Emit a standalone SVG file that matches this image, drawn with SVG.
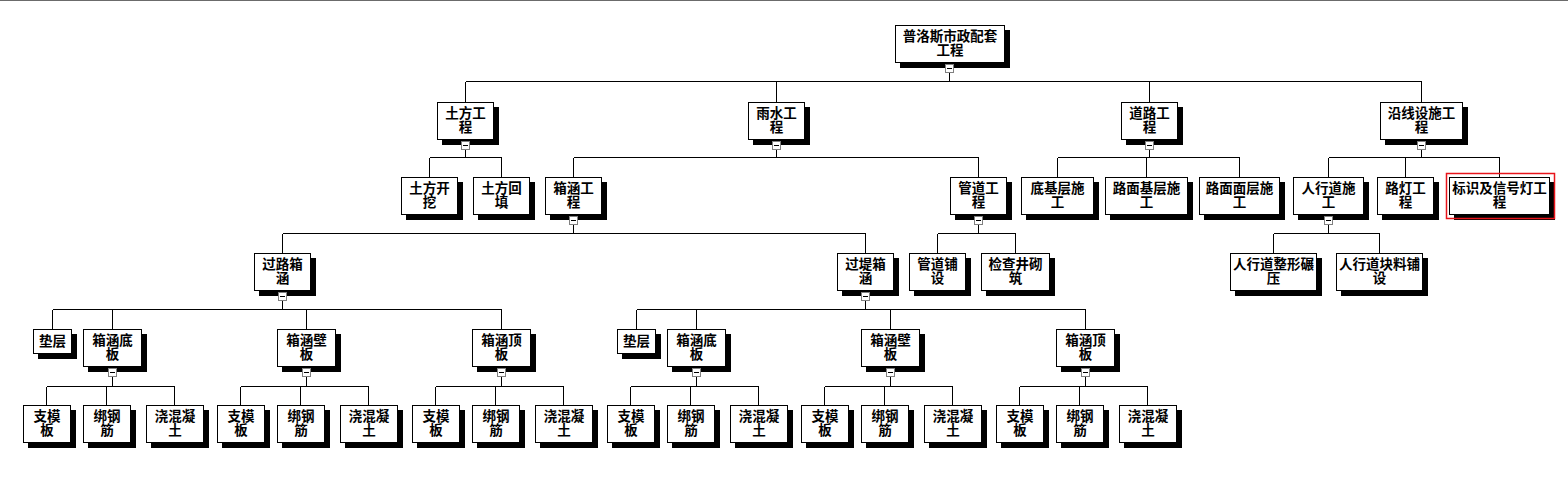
<svg xmlns="http://www.w3.org/2000/svg" width="1568" height="495" viewBox="0 0 1568 495">
<style>
.sh{fill:#000}
.bx{fill:#fff;stroke:#000;stroke-width:1;shape-rendering:crispEdges}
.t{font-family:"Noto Sans CJK SC","Noto Sans",sans-serif;font-weight:bold;font-size:13.5px;text-anchor:middle;fill:#000}
.tg rect{fill:#fff;stroke:#808080;stroke-width:1;shape-rendering:crispEdges}
.tg path{stroke:#000;stroke-width:1;fill:none;shape-rendering:crispEdges}
#connectors path{stroke:#000;stroke-width:1;fill:none;shape-rendering:crispEdges}
</style>
<rect x="0" y="0" width="1568" height="1" fill="#6b6b6b"/>
<rect width="1568" height="494" y="1" fill="#fff"/>
<g id="connectors">
<path d="M949.5 72V81.5M465.5 81.5H1421.5M465.5 81.5V102M776.5 81.5V102M1149.5 81.5V102M1421.5 81.5V102"/>
<path d="M465.5 149V157.5M429.5 157.5H501.5M429.5 157.5V177M501.5 157.5V177"/>
<path d="M776.5 149V157.5M573.5 157.5H978.5M573.5 157.5V177M978.5 157.5V177"/>
<path d="M1149.5 149V157.5M1057.5 157.5H1239.5M1057.5 157.5V177M1146.5 157.5V177M1239.5 157.5V177"/>
<path d="M1421.5 149V157.5M1328.5 157.5H1499.5M1328.5 157.5V177M1405.5 157.5V177M1499.5 157.5V177"/>
<path d="M573.5 224V233.5M282.5 233.5H865.5M282.5 233.5V253M865.5 233.5V253"/>
<path d="M978.5 224V233.5M937.5 233.5H1015.5M937.5 233.5V253M1015.5 233.5V253"/>
<path d="M1328.5 224V233.5M1273.5 233.5H1379.5M1273.5 233.5V253M1379.5 233.5V253"/>
<path d="M282.5 300V309.5M52.5 309.5H501.5M52.5 309.5V329M112.5 309.5V329M306.5 309.5V329M501.5 309.5V329"/>
<path d="M865.5 300V309.5M636.5 309.5H1085.5M636.5 309.5V329M696.5 309.5V329M890.5 309.5V329M1085.5 309.5V329"/>
<path d="M112.5 376V386.5M46.5 386.5H174.5M46.5 386.5V405M106.5 386.5V405M174.5 386.5V405"/>
<path d="M306.5 376V386.5M240.5 386.5H368.5M240.5 386.5V405M300.5 386.5V405M368.5 386.5V405"/>
<path d="M501.5 376V386.5M435.5 386.5H563.5M435.5 386.5V405M495.5 386.5V405M563.5 386.5V405"/>
<path d="M696.5 376V386.5M630.5 386.5H758.5M630.5 386.5V405M690.5 386.5V405M758.5 386.5V405"/>
<path d="M890.5 376V386.5M824.5 386.5H952.5M824.5 386.5V405M884.5 386.5V405M952.5 386.5V405"/>
<path d="M1085.5 376V386.5M1019.5 386.5H1147.5M1019.5 386.5V405M1079.5 386.5V405M1147.5 386.5V405"/>
</g>

<g id="root"><rect class="sh" x="900" y="30" width="110" height="38"/><rect class="bx" x="895.5" y="25.5" width="109" height="37"/><text class="t" x="950" y="41">普洛斯市政配套<tspan x="950" dy="14">工程</tspan></text><g class="tg"><rect x="945.5" y="64.5" width="8" height="8"/><path d="M947 68.5h5"/></g></g>

<g id="n-tufang"><rect class="sh" x="442" y="107" width="57" height="38"/><rect class="bx" x="437.5" y="102.5" width="56" height="37"/><text class="t" x="465.5" y="118">土方工<tspan x="465.5" dy="14">程</tspan></text><g class="tg"><rect x="461.5" y="141.5" width="8" height="8"/><path d="M463 145.5h5"/></g></g>
<g id="n-yushui"><rect class="sh" x="753" y="107" width="57" height="38"/><rect class="bx" x="748.5" y="102.5" width="56" height="37"/><text class="t" x="776.5" y="118">雨水工<tspan x="776.5" dy="14">程</tspan></text><g class="tg"><rect x="772.5" y="141.5" width="8" height="8"/><path d="M774 145.5h5"/></g></g>
<g id="n-daolu"><rect class="sh" x="1126" y="107" width="57" height="38"/><rect class="bx" x="1121.5" y="102.5" width="56" height="37"/><text class="t" x="1149.5" y="118">道路工<tspan x="1149.5" dy="14">程</tspan></text><g class="tg"><rect x="1145.5" y="141.5" width="8" height="8"/><path d="M1147 145.5h5"/></g></g>
<g id="n-yanxian"><rect class="sh" x="1385" y="107" width="83" height="38"/><rect class="bx" x="1380.5" y="102.5" width="82" height="37"/><text class="t" x="1421.5" y="118">沿线设施工<tspan x="1421.5" dy="14">程</tspan></text><g class="tg"><rect x="1417.5" y="141.5" width="8" height="8"/><path d="M1419 145.5h5"/></g></g>

<g id="n-tfkw"><rect class="sh" x="406" y="182" width="57" height="38"/><rect class="bx" x="401.5" y="177.5" width="56" height="37"/><text class="t" x="429.5" y="193">土方开<tspan x="429.5" dy="14">挖</tspan></text></g>
<g id="n-tfht"><rect class="sh" x="478" y="182" width="57" height="38"/><rect class="bx" x="473.5" y="177.5" width="56" height="37"/><text class="t" x="501.5" y="193">土方回<tspan x="501.5" dy="14">填</tspan></text></g>
<g id="n-xhgc"><rect class="sh" x="550" y="182" width="57" height="38"/><rect class="bx" x="545.5" y="177.5" width="56" height="37"/><text class="t" x="573.5" y="193">箱涵工<tspan x="573.5" dy="14">程</tspan></text><g class="tg"><rect x="569.5" y="216.5" width="8" height="8"/><path d="M571 220.5h5"/></g></g>
<g id="n-gdgc"><rect class="sh" x="955" y="182" width="57" height="38"/><rect class="bx" x="950.5" y="177.5" width="56" height="37"/><text class="t" x="978.5" y="193">管道工<tspan x="978.5" dy="14">程</tspan></text><g class="tg"><rect x="974.5" y="216.5" width="8" height="8"/><path d="M976 220.5h5"/></g></g>
<g id="n-djcsg"><rect class="sh" x="1026" y="182" width="73" height="38"/><rect class="bx" x="1021.5" y="177.5" width="72" height="37"/><text class="t" x="1057.5" y="193">底基层施<tspan x="1057.5" dy="14">工</tspan></text></g>
<g id="n-lmjcsg"><rect class="sh" x="1110" y="182" width="83" height="38"/><rect class="bx" x="1105.5" y="177.5" width="82" height="37"/><text class="t" x="1146.5" y="193">路面基层施<tspan x="1146.5" dy="14">工</tspan></text></g>
<g id="n-lmmcsg"><rect class="sh" x="1204" y="182" width="81" height="38"/><rect class="bx" x="1199.5" y="177.5" width="80" height="37"/><text class="t" x="1239.5" y="193">路面面层施<tspan x="1239.5" dy="14">工</tspan></text></g>
<g id="n-rxdsg"><rect class="sh" x="1298" y="182" width="71" height="38"/><rect class="bx" x="1293.5" y="177.5" width="70" height="37"/><text class="t" x="1328.5" y="193">人行道施<tspan x="1328.5" dy="14">工</tspan></text><g class="tg"><rect x="1324.5" y="216.5" width="8" height="8"/><path d="M1326 220.5h5"/></g></g>
<g id="n-ldgc"><rect class="sh" x="1382" y="182" width="57" height="38"/><rect class="bx" x="1377.5" y="177.5" width="56" height="37"/><text class="t" x="1405.5" y="193">路灯工<tspan x="1405.5" dy="14">程</tspan></text></g>
<g id="n-bsxhd"><rect class="sh" x="1454" y="182" width="101" height="38"/><rect class="bx" x="1449.5" y="177.5" width="100" height="37"/><text class="t" x="1499.5" y="193">标识及信号灯工<tspan x="1499.5" dy="14">程</tspan></text><rect x="1446.5" y="173.5" width="108" height="45" fill="none" stroke="#e8141b" stroke-width="1.5"/></g>

<g id="n-glxh"><rect class="sh" x="259" y="258" width="57" height="38"/><rect class="bx" x="254.5" y="253.5" width="56" height="37"/><text class="t" x="282.5" y="269">过路箱<tspan x="282.5" dy="14">涵</tspan></text><g class="tg"><rect x="278.5" y="292.5" width="8" height="8"/><path d="M280 296.5h5"/></g></g>
<g id="n-gdxh"><rect class="sh" x="842" y="258" width="57" height="38"/><rect class="bx" x="837.5" y="253.5" width="56" height="37"/><text class="t" x="865.5" y="269">过堤箱<tspan x="865.5" dy="14">涵</tspan></text><g class="tg"><rect x="861.5" y="292.5" width="8" height="8"/><path d="M863 296.5h5"/></g></g>
<g id="n-gdps"><rect class="sh" x="914" y="258" width="57" height="38"/><rect class="bx" x="909.5" y="253.5" width="56" height="37"/><text class="t" x="937.5" y="269">管道铺<tspan x="937.5" dy="14">设</tspan></text></g>
<g id="n-jcjqz"><rect class="sh" x="986" y="258" width="69" height="38"/><rect class="bx" x="981.5" y="253.5" width="68" height="37"/><text class="t" x="1015.5" y="269">检查井砌<tspan x="1015.5" dy="14">筑</tspan></text></g>
<g id="n-rxdzx"><rect class="sh" x="1235" y="258" width="87" height="38"/><rect class="bx" x="1230.5" y="253.5" width="86" height="37"/><text class="t" x="1273.5" y="269">人行道整形碾<tspan x="1273.5" dy="14">压</tspan></text></g>
<g id="n-rxdkl"><rect class="sh" x="1341" y="258" width="87" height="38"/><rect class="bx" x="1336.5" y="253.5" width="86" height="37"/><text class="t" x="1379.5" y="269">人行道块料铺<tspan x="1379.5" dy="14">设</tspan></text></g>

<g id="n-dc1"><rect class="sh" x="38" y="334" width="39" height="25"/><rect class="bx" x="33.5" y="329.5" width="38" height="24"/><text class="t" x="52.5" y="346">垫层</text></g>
<g id="n-xhdb1"><rect class="sh" x="88" y="334" width="59" height="38"/><rect class="bx" x="83.5" y="329.5" width="58" height="37"/><text class="t" x="112.5" y="345">箱涵底<tspan x="112.5" dy="14">板</tspan></text><g class="tg"><rect x="108.5" y="368.5" width="8" height="8"/><path d="M110 372.5h5"/></g></g>
<g id="n-xhbb1"><rect class="sh" x="282" y="334" width="59" height="38"/><rect class="bx" x="277.5" y="329.5" width="58" height="37"/><text class="t" x="306.5" y="345">箱涵壁<tspan x="306.5" dy="14">板</tspan></text><g class="tg"><rect x="302.5" y="368.5" width="8" height="8"/><path d="M304 372.5h5"/></g></g>
<g id="n-xhdingb1"><rect class="sh" x="477" y="334" width="59" height="38"/><rect class="bx" x="472.5" y="329.5" width="58" height="37"/><text class="t" x="501.5" y="345">箱涵顶<tspan x="501.5" dy="14">板</tspan></text><g class="tg"><rect x="497.5" y="368.5" width="8" height="8"/><path d="M499 372.5h5"/></g></g>
<g id="n-dc2"><rect class="sh" x="622" y="334" width="39" height="25"/><rect class="bx" x="617.5" y="329.5" width="38" height="24"/><text class="t" x="636.5" y="346">垫层</text></g>
<g id="n-xhdb2"><rect class="sh" x="672" y="334" width="59" height="38"/><rect class="bx" x="667.5" y="329.5" width="58" height="37"/><text class="t" x="696.5" y="345">箱涵底<tspan x="696.5" dy="14">板</tspan></text><g class="tg"><rect x="692.5" y="368.5" width="8" height="8"/><path d="M694 372.5h5"/></g></g>
<g id="n-xhbb2"><rect class="sh" x="866" y="334" width="59" height="38"/><rect class="bx" x="861.5" y="329.5" width="58" height="37"/><text class="t" x="890.5" y="345">箱涵壁<tspan x="890.5" dy="14">板</tspan></text><g class="tg"><rect x="886.5" y="368.5" width="8" height="8"/><path d="M888 372.5h5"/></g></g>
<g id="n-xhdingb2"><rect class="sh" x="1061" y="334" width="59" height="38"/><rect class="bx" x="1056.5" y="329.5" width="58" height="37"/><text class="t" x="1085.5" y="345">箱涵顶<tspan x="1085.5" dy="14">板</tspan></text><g class="tg"><rect x="1081.5" y="368.5" width="8" height="8"/><path d="M1083 372.5h5"/></g></g>

<g id="n-zmb1"><rect class="sh" x="28" y="410" width="48" height="38"/><rect class="bx" x="23.5" y="405.5" width="47" height="37"/><text class="t" x="47" y="421">支模<tspan x="47" dy="14">板</tspan></text></g>
<g id="n-bgj1"><rect class="sh" x="88" y="410" width="48" height="38"/><rect class="bx" x="83.5" y="405.5" width="47" height="37"/><text class="t" x="107" y="421">绑钢<tspan x="107" dy="14">筋</tspan></text></g>
<g id="n-hnt1"><rect class="sh" x="151" y="410" width="58" height="38"/><rect class="bx" x="146.5" y="405.5" width="57" height="37"/><text class="t" x="175" y="421">浇混凝<tspan x="175" dy="14">土</tspan></text></g>
<g id="n-zmb2"><rect class="sh" x="222" y="410" width="48" height="38"/><rect class="bx" x="217.5" y="405.5" width="47" height="37"/><text class="t" x="241" y="421">支模<tspan x="241" dy="14">板</tspan></text></g>
<g id="n-bgj2"><rect class="sh" x="282" y="410" width="48" height="38"/><rect class="bx" x="277.5" y="405.5" width="47" height="37"/><text class="t" x="301" y="421">绑钢<tspan x="301" dy="14">筋</tspan></text></g>
<g id="n-hnt2"><rect class="sh" x="345" y="410" width="58" height="38"/><rect class="bx" x="340.5" y="405.5" width="57" height="37"/><text class="t" x="369" y="421">浇混凝<tspan x="369" dy="14">土</tspan></text></g>
<g id="n-zmb3"><rect class="sh" x="417" y="410" width="48" height="38"/><rect class="bx" x="412.5" y="405.5" width="47" height="37"/><text class="t" x="436" y="421">支模<tspan x="436" dy="14">板</tspan></text></g>
<g id="n-bgj3"><rect class="sh" x="477" y="410" width="48" height="38"/><rect class="bx" x="472.5" y="405.5" width="47" height="37"/><text class="t" x="496" y="421">绑钢<tspan x="496" dy="14">筋</tspan></text></g>
<g id="n-hnt3"><rect class="sh" x="540" y="410" width="58" height="38"/><rect class="bx" x="535.5" y="405.5" width="57" height="37"/><text class="t" x="564" y="421">浇混凝<tspan x="564" dy="14">土</tspan></text></g>
<g id="n-zmb4"><rect class="sh" x="612" y="410" width="48" height="38"/><rect class="bx" x="607.5" y="405.5" width="47" height="37"/><text class="t" x="631" y="421">支模<tspan x="631" dy="14">板</tspan></text></g>
<g id="n-bgj4"><rect class="sh" x="672" y="410" width="48" height="38"/><rect class="bx" x="667.5" y="405.5" width="47" height="37"/><text class="t" x="691" y="421">绑钢<tspan x="691" dy="14">筋</tspan></text></g>
<g id="n-hnt4"><rect class="sh" x="735" y="410" width="58" height="38"/><rect class="bx" x="730.5" y="405.5" width="57" height="37"/><text class="t" x="759" y="421">浇混凝<tspan x="759" dy="14">土</tspan></text></g>
<g id="n-zmb5"><rect class="sh" x="806" y="410" width="48" height="38"/><rect class="bx" x="801.5" y="405.5" width="47" height="37"/><text class="t" x="825" y="421">支模<tspan x="825" dy="14">板</tspan></text></g>
<g id="n-bgj5"><rect class="sh" x="866" y="410" width="48" height="38"/><rect class="bx" x="861.5" y="405.5" width="47" height="37"/><text class="t" x="885" y="421">绑钢<tspan x="885" dy="14">筋</tspan></text></g>
<g id="n-hnt5"><rect class="sh" x="929" y="410" width="58" height="38"/><rect class="bx" x="924.5" y="405.5" width="57" height="37"/><text class="t" x="953" y="421">浇混凝<tspan x="953" dy="14">土</tspan></text></g>
<g id="n-zmb6"><rect class="sh" x="1001" y="410" width="48" height="38"/><rect class="bx" x="996.5" y="405.5" width="47" height="37"/><text class="t" x="1020" y="421">支模<tspan x="1020" dy="14">板</tspan></text></g>
<g id="n-bgj6"><rect class="sh" x="1061" y="410" width="48" height="38"/><rect class="bx" x="1056.5" y="405.5" width="47" height="37"/><text class="t" x="1080" y="421">绑钢<tspan x="1080" dy="14">筋</tspan></text></g>
<g id="n-hnt6"><rect class="sh" x="1124" y="410" width="58" height="38"/><rect class="bx" x="1119.5" y="405.5" width="57" height="37"/><text class="t" x="1148" y="421">浇混凝<tspan x="1148" dy="14">土</tspan></text></g>
</svg>
